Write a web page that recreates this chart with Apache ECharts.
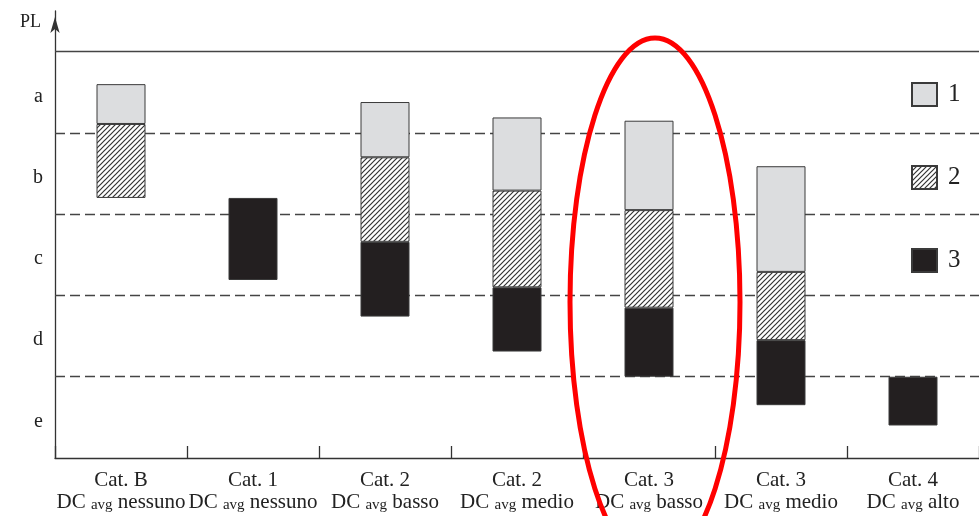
<!DOCTYPE html>
<html>
<head>
<meta charset="utf-8">
<script src="https://cdn.jsdelivr.net/npm/echarts@6/dist/echarts.min.js"></script>
<style>html,body{margin:0;padding:0;background:#fff;}#c{width:979px;height:516px;}</style>
</head>
<body>
<div id="c"></div>
<script>
// ---- data ----
const categories = ['Cat. B', 'Cat. 1', 'Cat. 2', 'Cat. 2', 'Cat. 3', 'Cat. 3', 'Cat. 4'];
const dcLevels = ['nessuno', 'nessuno', 'basso', 'medio', 'basso', 'medio', 'alto'];
const yLevelLabels = ['e', 'd', 'c', 'b', 'a']; // centred at 0.5 ... 4.5
const levelLines = [1, 2, 3, 4];
const topLine = 5;
const barBottom = [3.20, 2.19, 1.74, 1.31, 1.00, 0.65, 0.40];
const top3 = [null, 3.20, 2.66, 2.10, 1.85, 1.45, 1.00];
const top2 = [4.11, null, 3.70, 3.29, 3.05, 2.29, null];
const top1 = [4.60, null, 4.38, 4.19, 4.15, 3.59, null];
const legendNames = ['1', '2', '3'];

// ---- build stacked segments ----
const seg3 = [], seg2 = [], seg1 = [];
for (let i = 0; i < categories.length; i++) {
  let prev = barBottom[i];
  [[top3, seg3], [top2, seg2], [top1, seg1]].forEach(function (p) {
    const t = p[0][i];
    if (t == null) { p[1].push('-'); }
    else { p[1].push(+(t - prev).toFixed(3)); prev = t; }
  });
}

// hatch pattern
const pc = document.createElement('canvas');
pc.width = 5; pc.height = 5;
const g = pc.getContext('2d');
g.fillStyle = '#ffffff'; g.fillRect(0, 0, 5, 5);
g.strokeStyle = '#333333'; g.lineWidth = 1.2;
g.beginPath();
g.moveTo(-1, 6); g.lineTo(6, -1);
g.moveTo(-6, 6); g.lineTo(1, -1);
g.moveTo(4, 6); g.lineTo(11, -1);
g.stroke();
const hatch = { image: pc, repeat: 'repeat' };

const FONT = 'Liberation Serif';
const chart = echarts.init(document.getElementById('c'), null, { renderer: 'canvas' });
const border = { borderColor: '#3a3a3a', borderWidth: 1 };

chart.setOption({
  animation: false,
  backgroundColor: '#ffffff',
  grid: { left: 55, right: 0, top: 11, bottom: 58, containLabel: false },
  legend: {
    data: legendNames,
    orient: 'vertical',
    left: 911, top: 82, padding: 0,
    itemWidth: 25, itemHeight: 23, itemGap: 58,
    icon: 'rect',
    textStyle: { fontFamily: FONT, fontSize: 25, color: '#222', padding: [0, 0, 0, 6] }
  },
  xAxis: {
    type: 'category',
    data: categories.map(function (c, i) { return c + '|' + dcLevels[i]; }),
    axisLine: { lineStyle: { color: '#333', width: 1.3 } },
    axisTick: { show: true, inside: true, length: 12, lineStyle: { color: '#333', width: 1.3 } },
    axisLabel: {
      margin: 11,
      interval: 0,
      formatter: function (v) {
        const p = v.split('|');
        return '{m|' + p[0] + '}\n{m|DC }{s|avg}{m| ' + p[1] + '}';
      },
      rich: {
        m: { fontFamily: FONT, fontSize: 21, lineHeight: 22, color: '#222' },
        s: { fontFamily: FONT, fontSize: 15, lineHeight: 14, verticalAlign: 'bottom', color: '#222' }
      }
    }
  },
  yAxis: {
    type: 'value',
    min: 0, max: 5.5, interval: 0.5,
    name: 'PL',
    nameLocation: 'end',
    nameGap: -11,
    nameTextStyle: { fontFamily: FONT, fontSize: 18, color: '#222', align: 'right', verticalAlign: 'middle', padding: [0, 14, 0, 0] },
    axisLine: { show: true, symbol: ['none', 'arrow'], symbolSize: [7, 16], symbolOffset: [0, -6], lineStyle: { color: '#333', width: 1.3 } },
    axisTick: { show: false },
    splitLine: { show: false },
    axisLabel: {
      margin: 12,
      verticalAlign: 'top',
      lineHeight: 8,
      fontFamily: FONT, fontSize: 20, color: '#222',
      showMaxLabel: false,
      formatter: function (v) {
        const k = Math.round(v * 2);
        if (k % 2 === 1) { return yLevelLabels[(k - 1) / 2] || ''; }
        return '';
      }
    }
  },
  graphic: [{
    type: 'ellipse',
    shape: { cx: 655, cy: 302, rx: 85, ry: 264 },
    style: { fill: 'none', stroke: '#ff0000', lineWidth: 5 },
    z: 100
  }],
  series: [
    {
      name: 'base', type: 'bar', stack: 'pl', barWidth: 49,
      data: barBottom,
      itemStyle: { color: 'rgba(0,0,0,0)' },
      silent: true,
      markLine: {
        silent: true, symbol: 'none', z: 1,
        label: { show: false },
        data: levelLines.map(function (v) { return { yAxis: v, lineStyle: { type: [10, 5], color: '#444', width: 1.3 } }; })
          .concat([{ yAxis: topLine, lineStyle: { type: 'solid', color: '#444', width: 1.3 } }])
      }
    },
    { name: '3', type: 'bar', stack: 'pl', barWidth: 49, data: seg3, itemStyle: Object.assign({ color: '#231f20' }, border) },
    { name: '2', type: 'bar', stack: 'pl', barWidth: 49, data: seg2, itemStyle: Object.assign({ color: hatch }, border) },
    { name: '1', type: 'bar', stack: 'pl', barWidth: 49, data: seg1, itemStyle: Object.assign({ color: '#dcdddf' }, border) }
  ]
});
</script>
</body>
</html>
